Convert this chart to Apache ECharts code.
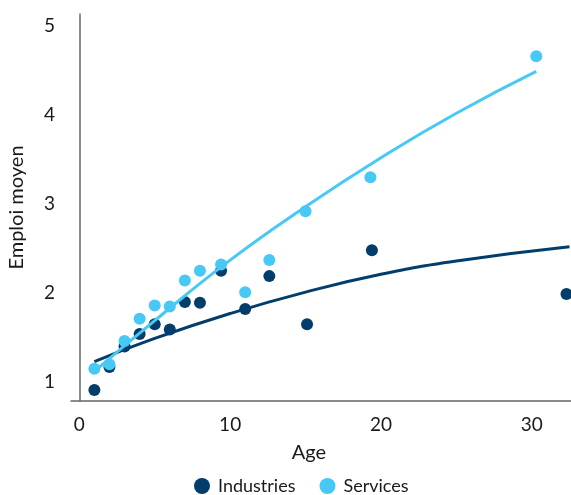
<!DOCTYPE html>
<html>
<head>
<meta charset="utf-8">
<title>Emploi moyen par âge</title>
<script src="https://cdn.jsdelivr.net/npm/echarts@6/dist/echarts.min.js"></script>
<style>
  html, body { margin: 0; padding: 0; background: #fff; }
  #chart { width: 571px; height: 495px; }
</style>
</head>
<body>
<div id="chart"></div>
<script>
// Données
const ages = [1, 2, 3, 4, 5, 6, 7, 8, 9.4, 11, 12.6, 15.1, 19.4, 32.3];
const industriesValues = [0.91, 1.17, 1.40, 1.54, 1.65, 1.59, 1.90, 1.89, 2.25, 1.82, 2.19, 1.65, 2.48, 1.99];

const servicesAges = [1, 2, 3, 4, 5, 6, 7, 8, 9.4, 11, 12.6, 15, 19.3, 30.3];
const servicesValues = [1.15, 1.20, 1.46, 1.71, 1.86, 1.85, 2.14, 2.25, 2.32, 2.01, 2.37, 2.92, 3.30, 4.66];

// Courbes de tendance (points relevés)
const industriesTrendX = [1, 5, 10, 15, 20, 25, 32.5];
const industriesTrendY = [1.23, 1.49, 1.77, 2.01, 2.21, 2.36, 2.52];
const servicesTrendX = [1, 5, 10, 15, 20, 25, 30.3];
const servicesTrendY = [1.12, 1.69, 2.37, 2.97, 3.52, 4.02, 4.49];

const xTicks = [0, 10, 20, 30];
const yTicks = [1, 2, 3, 4, 5];

const DARK = "#023d6b";
const LIGHT = "#47c8f5";
const FONT = "Lato, 'Noto Sans', sans-serif";

function pairs(xs, ys) {
  return xs.map((x, i) => [x, ys[i]]);
}

const chart = echarts.init(document.getElementById("chart"));

chart.setOption({
  animation: false,
  textStyle: { fontFamily: FONT },
  grid: { left: 71, right: 0, top: 14, bottom: 94, containLabel: false, outerBoundsMode: "none" },
  legend: {
    bottom: 0,
    left: 194,
    padding: 0,
    icon: "circle",
    itemWidth: 16,
    itemHeight: 16,
    itemGap: 24,
    data: ["Industries", "Services"],
    textStyle: { fontSize: 18, color: "#1a1a1a", fontFamily: FONT, padding: [0, 0, 0, 3] },
  },
  xAxis: {
    type: "value",
    min: -0.55,
    max: 32.6,
    name: "Age",
    nameLocation: "middle",
    nameGap: 42,
    nameTextStyle: { fontSize: 20, color: "#1a1a1a", padding: [0, 24, 0, 0] },
    axisLine: { show: true, lineStyle: { color: "#666", width: 1.5 } },
    axisTick: { show: false },
    splitLine: { show: false },
    axisLabel: {
      customValues: xTicks,
      fontSize: 19,
      color: "#1a1a1a",
      margin: 14,
    },
  },
  yAxis: {
    type: "value",
    min: 0.787,
    max: 5.135,
    name: "Emploi moyen",
    nameLocation: "middle",
    nameGap: 44,
    nameTextStyle: { fontSize: 20, color: "#1a1a1a" },
    axisLine: { show: true, lineStyle: { color: "#666", width: 1.5 } },
    axisTick: { show: false },
    splitLine: { show: false },
    axisLabel: {
      customValues: yTicks,
      fontSize: 19,
      color: "#1a1a1a",
      margin: 16,
    },
  },
  series: [
    {
      name: "Industries",
      type: "scatter",
      symbolSize: 12,
      itemStyle: { color: DARK, opacity: 1 },
      data: pairs(ages, industriesValues),
      z: 3,
    },
    {
      name: "Services",
      type: "scatter",
      symbolSize: 12,
      itemStyle: { color: LIGHT, opacity: 1 },
      data: pairs(servicesAges, servicesValues),
      z: 4,
    },
    {
      name: "Industries tendance",
      type: "line",
      smooth: true,
      showSymbol: false,
      lineStyle: { color: DARK, width: 3 },
      itemStyle: { color: DARK },
      data: pairs(industriesTrendX, industriesTrendY),
      z: 2,
    },
    {
      name: "Services tendance",
      type: "line",
      smooth: true,
      showSymbol: false,
      lineStyle: { color: LIGHT, width: 3 },
      itemStyle: { color: LIGHT },
      data: pairs(servicesTrendX, servicesTrendY),
      z: 5,
    },
  ],
});

window.addEventListener("resize", function () {
  chart.resize();
});
</script>
</body>
</html>
